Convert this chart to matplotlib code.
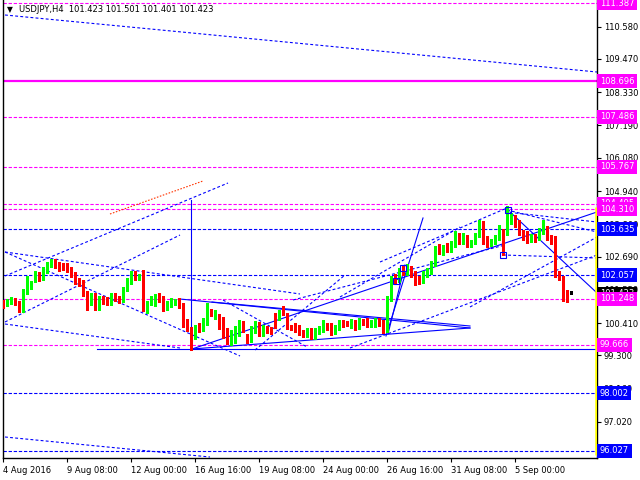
import matplotlib
matplotlib.use('Agg')
import matplotlib.pyplot as plt
from matplotlib.transforms import blended_transform_factory

# ---------------- data ----------------
symbol = "USDJPY,H4"
header_ohlc = "101.423 101.501 101.401 101.423"

opens = [101.13,101.07,101.13,101.20,101.10,100.86,101.48,101.65,101.89,102.10,
         101.96,102.20,102.40,102.54,102.44,102.40,102.30,102.27,102.10,101.89,
         101.82,101.44,101.17,101.37,100.93,101.27,101.24,101.10,101.37,101.27,
         101.20,101.58,101.82,102.13,101.96,101.99,100.90,101.10,101.07,101.37,
         101.27,100.93,101.03,101.10,101.20,101.03,100.48,100.21,99.93,100.28,
         100.21,100.41,100.79,100.62,100.65,100.28,100.17,99.76,99.83,100.04,
         100.41,99.97,99.83,100.14,100.38,100.04,100.21,100.17,100.69,100.59,
         100.86,100.69,100.28,100.35,100.28,100.11,100.00,100.17,99.93,100.11,
         100.17,100.35,100.35,100.11,100.24,100.45,100.41,100.31,100.45,100.28,
         100.48,100.52,100.35,100.35,100.52,100.45,100.17,101.24,101.99,101.89,
         102.30,102.13,102.27,102.13,101.96,101.85,102.06,102.16,102.44,103.02,
         102.82,103.09,102.92,103.09,103.40,103.19,103.36,103.09,103.19,103.43,
         103.81,103.33,103.12,103.19,103.33,103.57,103.50,103.91,104.02,103.88,
         103.53,103.50,103.26,103.40,103.33,103.53,103.67,103.36,103.33,102.13,
         101.96,101.41,101.423]
highs = [101.20,101.24,101.31,101.27,101.17,101.58,102.03,101.85,102.20,102.16,
         102.33,102.51,102.61,102.61,102.51,102.47,102.47,102.33,102.16,101.96,
         101.89,101.51,101.44,101.44,101.34,101.34,101.31,101.44,101.44,101.34,
         101.65,101.96,102.20,102.20,102.10,102.23,101.17,101.34,101.41,101.44,
         101.34,101.17,101.27,101.24,101.27,101.10,100.55,100.28,100.35,100.41,
         100.59,101.10,100.90,100.86,100.72,100.62,100.24,100.17,100.31,100.52,
         100.48,100.04,100.31,100.48,100.45,100.35,100.31,100.28,100.76,100.86,
         101.00,100.76,100.35,100.41,100.35,100.17,100.24,100.24,100.24,100.31,
         100.52,100.41,100.41,100.35,100.52,100.52,100.48,100.55,100.52,100.59,
         100.55,100.59,100.52,100.59,100.59,100.52,101.34,102.03,102.10,102.30,
         102.40,102.44,102.37,102.20,102.03,102.20,102.30,102.54,103.06,103.12,
         103.09,103.16,103.23,103.57,103.50,103.50,103.43,103.26,103.50,103.95,
         103.91,103.40,103.30,103.43,103.77,103.64,104.43,104.19,104.12,103.95,
         103.60,103.57,103.47,103.47,103.67,103.95,103.74,103.43,103.40,102.20,
         102.03,101.55,101.501]
lows = [100.93,101.00,101.07,101.03,100.79,100.79,101.41,101.58,101.82,101.85,
        101.89,102.13,102.33,102.30,102.20,102.23,102.16,101.99,101.75,101.68,
        101.34,100.86,101.03,100.86,100.86,101.07,101.03,101.03,101.17,101.10,
        101.13,101.51,101.75,101.89,101.89,100.83,100.76,101.03,101.00,101.13,
        100.83,100.86,100.96,101.03,100.93,100.28,100.14,99.49,99.86,100.11,
        100.14,100.35,100.65,100.55,100.21,99.90,99.69,99.66,99.73,99.97,
        100.11,99.73,99.76,100.07,99.97,99.97,100.07,100.04,100.24,100.52,
        100.69,100.21,100.17,100.11,100.00,99.93,99.93,99.86,99.86,100.04,
        100.11,100.17,100.00,100.04,100.17,100.28,100.31,100.24,100.17,100.21,
        100.35,100.28,100.28,100.28,100.31,100.07,100.11,101.17,101.75,101.82,
        102.06,102.06,101.99,101.72,101.75,101.79,101.99,102.10,102.37,102.78,
        102.75,102.85,102.85,103.02,103.12,103.12,103.02,103.02,103.12,103.36,
        103.12,103.02,103.06,103.12,103.26,102.75,103.43,103.81,103.71,103.43,
        103.26,103.16,103.19,103.19,103.26,103.47,103.26,103.12,101.99,101.89,
        101.17,101.13,101.401]
closes = [101.00,101.17,101.24,101.10,100.86,101.51,101.72,101.79,102.10,101.92,
          102.27,102.44,102.54,102.37,102.27,102.30,102.23,102.06,101.82,101.75,
          101.41,101.17,101.37,100.93,101.27,101.13,101.10,101.37,101.24,101.17,
          101.58,101.89,102.13,101.96,102.03,100.90,101.10,101.27,101.34,101.20,
          100.90,101.10,101.20,101.17,101.00,100.45,100.21,99.93,100.28,100.24,
          100.52,100.79,100.76,100.79,100.28,100.17,99.76,100.11,100.24,100.41,
          100.17,99.80,100.24,100.41,100.04,100.28,100.14,100.11,100.45,100.79,
          100.76,100.28,100.24,100.17,100.07,100.00,100.17,99.93,100.17,100.24,
          100.45,100.24,100.07,100.28,100.45,100.35,100.38,100.48,100.24,100.52,
          100.41,100.35,100.45,100.52,100.38,100.14,101.27,101.82,101.82,102.20,
          102.13,102.30,102.06,101.82,101.85,102.13,102.23,102.47,102.99,102.85,
          103.02,102.92,103.16,103.47,103.19,103.40,103.09,103.19,103.43,103.84,
          103.19,103.19,103.23,103.36,103.67,103.33,104.36,104.02,103.77,103.50,
          103.33,103.23,103.40,103.26,103.60,103.77,103.33,103.19,102.06,101.96,
          101.31,101.38,101.423]

x_tick_bars = [0, 16, 32, 48, 64, 80, 96, 112, 128]
x_tick_labels = ["4 Aug 2016", "9 Aug 08:00", "12 Aug 00:00", "16 Aug 16:00",
                 "19 Aug 08:00", "24 Aug 00:00", "26 Aug 16:00", "31 Aug 08:00",
                 "5 Sep 00:00"]
y_ticks = [110.580, 109.470, 108.330, 107.190, 106.080, 104.940, 103.800,
           102.690, 101.550, 100.410, 99.300, 98.160, 97.020, 95.910]

# horizontal levels: price, colour, style
level_prices = [111.387, 108.696, 107.486, 105.767, 104.495, 104.310, 103.635,
                102.057, 101.248, 99.666, 98.002, 96.027]
level_colors = ['#ff00ff', '#ff00ff', '#ff00ff', '#ff00ff', '#ff00ff', '#ff00ff',
                '#0000ff', '#0000ff', '#ff00ff', '#ff00ff', '#0000ff', '#0000ff']
level_solid = [False, True, False, False, False, False, False, False, False,
               False, False, False]
bid_price = 101.423

# trend lines as (bar1, price1, bar2, price2)
dashed_lines = [
    (0.5, 110.976, 148.5, 109.021),
    (0.5, 102.026, 56.25, 105.215),
    (0.5, 102.849, 74.25, 101.409),
    (0.5, 102.849, 59.25, 99.283),
    (0.5, 100.449, 44.25, 103.432),
    (0.5, 100.380, 44.25, 99.557),
    (0.5, 96.505, 51.75, 95.819),
    (94.25, 102.506, 126.0, 104.358),
    (126.0, 104.289, 148.5, 103.535),
    (128.0, 104.186, 148.5, 103.878),
    (125.0, 102.746, 148.5, 102.643),
    (86.75, 99.557, 148.5, 102.746),
    (72.5, 101.203, 125.5, 103.089),
    (84.25, 101.306, 114.25, 103.706),
    (116.75, 100.963, 148.5, 103.363),
    (63.0, 99.488, 85.5, 102.060),
    (55.0, 101.203, 76.0, 99.591),
]
dotted_red_lines = [(26.75, 104.152, 50.0, 105.284)]
solid_lines = [
    (23.5, 99.523, 148.5, 99.523),
    (47.0, 104.63, 47.0, 99.52),
    (47.25, 99.523, 148.5, 104.221),
    (44.25, 101.237, 116.75, 100.243),
    (52.25, 101.134, 116.75, 100.311),
    (47.25, 99.523, 116.75, 100.243),
    (95.75, 99.969, 105.0, 104.015),
    (96.25, 100.037, 100.5, 102.403),
    (126.75, 104.221, 148.25, 101.477),
]
square_bars = [98.25, 100.0, 125.0, 126.25]
square_prices = [101.855, 102.30, 102.746, 104.289]

# ---------------- figure ----------------
fig = plt.figure(figsize=(6.4, 4.8), dpi=100)
fig.patch.set_facecolor('white')
ax = fig.add_axes([3 / 640, 22 / 480, 594 / 640, 458 / 480])
ax.set_facecolor('white')
ax.set_xlim(0, 148.5)
ax.set_ylim(95.785, 111.49)

blue = '#0000ff'
mag = '#ff00ff'

# levels
for p, c, s in zip(level_prices, level_colors, level_solid):
    if s:
        ax.axhline(p, color=c, lw=1.6, zorder=2)
    else:
        ax.axhline(p, color=c, lw=0.8, dashes=(3, 1.6), zorder=2)

for (x1, y1, x2, y2) in dashed_lines:
    ax.plot([x1, x2], [y1, y2], color=blue, lw=0.8, dashes=(2.6, 2.0), zorder=2)
for (x1, y1, x2, y2) in dotted_red_lines:
    ax.plot([x1, x2], [y1, y2], color='#ff3300', lw=0.8, dashes=(1.4, 1.4), zorder=2)
for (x1, y1, x2, y2) in solid_lines:
    ax.plot([x1, x2], [y1, y2], color=blue, lw=0.8, zorder=2)

ax.plot(square_bars, square_prices, ls='none', marker='s', ms=5, mfc='none',
        mec=blue, mew=0.8, zorder=4)

# yellow range bar at right edge
ax.plot([148.2, 148.2], [104.40, 95.90], color='#ffff00', lw=1.8, zorder=3,
        solid_capstyle='butt')

# candles
for i, (o, h, l, c) in enumerate(zip(opens, highs, lows, closes)):
    if c > o:
        col = '#00ff00'
    elif c < o:
        col = '#ff0000'
    else:
        col = 'black'
    ax.vlines(i, l, h, color=col, lw=0.8, zorder=3, antialiased=False)
    bottom = min(o, c)
    height = max(abs(c - o), 0.035)
    ax.bar(i, height, bottom=bottom, width=0.75, color=col, lw=0, zorder=3,
           antialiased=False)

# axes styling
for side in ['left', 'right', 'bottom']:
    ax.spines[side].set_color('black')
    ax.spines[side].set_linewidth(1.0)
ax.spines['top'].set_visible(False)

ax.yaxis.tick_right()
ax.set_yticks(y_ticks)
ax.set_yticklabels([f"{v:.3f}" for v in y_ticks])
ax.tick_params(axis='y', which='both', length=3, width=0.8, labelsize=6,
               pad=2, colors='black', left=False)
ax.set_xticks(x_tick_bars)
ax.set_xticklabels(x_tick_labels)
for lbl in ax.get_xticklabels():
    lbl.set_horizontalalignment('left')
ax.tick_params(axis='x', length=3, width=0.8, labelsize=6, pad=3)

# price labels on the right axis
trans = blended_transform_factory(ax.transAxes, ax.transData)
def price_box(p, fc):
    ax.text(1.005, p, f"{p:.3f}", transform=trans, fontsize=6, color='white',
            va='center', ha='left', clip_on=False, zorder=6,
            bbox=dict(boxstyle='square,pad=0.3', fc=fc, ec='none'))

price_box(bid_price, 'black')
order = [0, 1, 2, 3, 4, 5, 6, 7, 8, 9, 10, 11]
for idx in order:
    price_box(level_prices[idx], level_colors[idx])

# header
fig.text(7 / 640, 1 - 10 / 480, "\u25BC", fontsize=5.5, color='black',
         va='center', ha='left')
fig.text(19 / 640, 1 - 10 / 480, f"{symbol}  {header_ohlc}", fontsize=6,
         color='black', va='center', ha='left')

fig.savefig('out.png', dpi=100, facecolor='white')
